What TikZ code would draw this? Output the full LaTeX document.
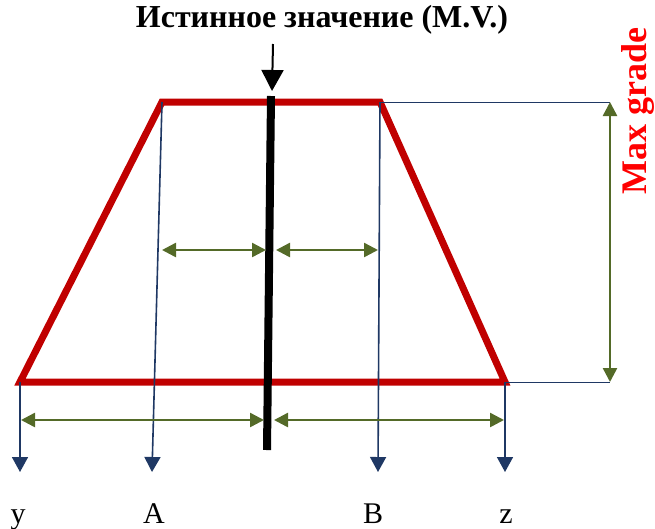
\documentclass[tikz,border=0pt]{standalone}
\usepackage{fontspec}
\setmainfont{Liberation Serif}
\usetikzlibrary{arrows.meta}
\definecolor{trapred}{RGB}{192,0,0}
\definecolor{dimgreen}{RGB}{84,106,40}
\definecolor{axisblue}{RGB}{31,56,100}

\begin{document}
\begin{tikzpicture}[x=1pt, y=-1pt,
  trapez/.style={draw=trapred, line width=7pt, line join=miter},
  dimline/.style={draw=dimgreen, line width=2.5pt,
    {Triangle[width=14pt,length=14pt]}-{Triangle[width=14pt,length=14pt]}},
  drop/.style={draw=axisblue, line width=1.6pt, -{Triangle[width=16pt,length=15pt]}},
  guide/.style={draw=axisblue, line width=1pt},
  lbl/.style={font=\fontsize{30}{34}\selectfont, inner sep=0pt, anchor=base}]
  \useasboundingbox (0,0) rectangle (655,528);

  % vrcholy lichoběžníku
  \coordinate (bl) at (20,382);
  \coordinate (br) at (505,382);
  \coordinate (tl) at (162,102);
  \coordinate (tr) at (380,102);

  % lichoběžník
  \draw[trapez] (bl) -- (tl) -- (tr) -- (br) -- cycle;

  % pravá hodnota
  \coordinate (mvtop) at (271,96);
  \coordinate (mvbot) at (267,450);
  \draw[line width=8pt] (mvtop) -- (mvbot);
  \node[font=\bfseries\fontsize{32}{36}\selectfont] (title) at (322,20) {Истинное значение (M.V.)};
  \coordinate (mvarrow) at (273,44);
  \coordinate (mvtip) at (272,91);
  \draw[line width=2pt, -{Triangle[width=22pt,length=21pt]}] (mvarrow) -- (mvtip);

  % popisky dole
  \node[lbl] (ylab) at (18,523) {y};
  \node[lbl] (alab) at (154,523) {A};
  \node[lbl] (blab) at (373,523) {B};
  \node[lbl] (zlab) at (506,523) {z};

  % svislé šipky
  \coordinate (yend) at (20,472);
  \coordinate (aend) at (152,472);
  \coordinate (bend) at (378,472);
  \coordinate (zend) at (505,472);
  \draw[drop] (bl) -- (yend);
  \draw[drop] (tl) -- (aend);
  \draw[drop] (tr) -- (bend);
  \draw[drop] (br) -- (zend);

  % vodicí čáry a výška
  \coordinate (gtop) at (610,102);
  \coordinate (gbot) at (610,382);
  \draw[guide] (tr) -- (gtop);
  \draw[guide] (br) -- (gbot);
  \draw[dimline] (gtop) -- (gbot);
  \node[rotate=90, text=red, font=\bfseries\fontsize{36}{40}\selectfont] (maxg) at (638,111) {Max grade};

  % vodorovné kóty
  \coordinate (m1) at (162,250);
  \coordinate (m2) at (266,250);
  \coordinate (m3) at (276,250);
  \coordinate (m4) at (378,250);
  \draw[dimline] (m1) -- (m2);
  \draw[dimline] (m3) -- (m4);
  \coordinate (d1) at (21,420);
  \coordinate (d2) at (264,420);
  \coordinate (d3) at (274,420);
  \coordinate (d4) at (504,420);
  \draw[dimline] (d1) -- (d2);
  \draw[dimline] (d3) -- (d4);
\end{tikzpicture}
\end{document}
